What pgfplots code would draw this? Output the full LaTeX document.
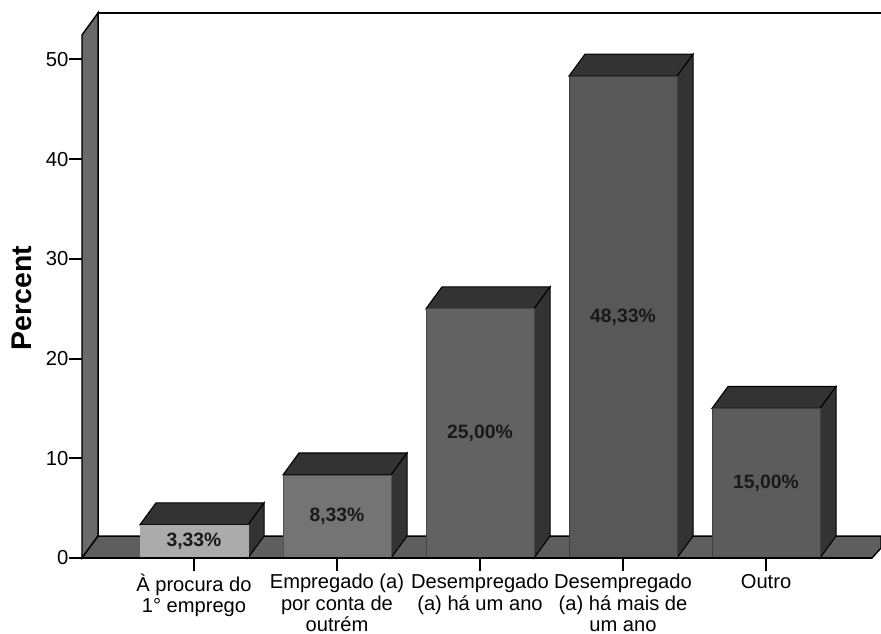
\documentclass[border=0pt]{standalone}
\usepackage{pgfplots}
\usepackage{fontspec}
\setmainfont{Liberation Sans}
\pgfplotsset{compat=1.18}
\definecolor{wall}{HTML}{6A6A6A}
\definecolor{floorc}{HTML}{5E5E5E}
\definecolor{dark}{HTML}{333333}
\definecolor{barA}{HTML}{ABABAB}
\definecolor{barB}{HTML}{747474}
\definecolor{barC}{HTML}{626262}
\definecolor{barD}{HTML}{585858}
\definecolor{barE}{HTML}{5C5C5C}
\begin{document}
\begin{tikzpicture}
\path[use as bounding box] (-61.5pt,-57pt) rectangle (599.25pt,418.5pt);
\begin{axis}[
  scale only axis, width=599.25pt, height=408.75pt,
  anchor=south west, at={(0pt,0pt)},
  xmin=-0.783, xmax=4.804, ymin=0, ymax=54.66,
  clip=false,
  axis line style={draw=none},
  tick align=outside, major tick length=9.5pt,
  tick style={black, line width=1.5pt},
  xtick pos=bottom, ytick pos=left,
  xtick={0,1,2,3,4},
  ytick={0,10,20,30,40,50},
  xticklabels={{À procura do\\1° emprego},{Empregado (a)\\por conta de\\outrém},{Desempregado\\(a) há um ano},{Desempregado\\(a) há mais de\\um ano},{Outro}},
  xticklabel style={align=center, font=\fontsize{15.1}{15.9}\selectfont, inner sep=0pt, yshift=-2.5pt},
  yticklabel style={font=\fontsize{15.2}{16}\selectfont, inner sep=0pt, xshift=-0.5pt},
  /pgf/number format/assume math mode=true,
  ylabel={Percent},
  every axis y label/.style={at={(axis description cs:-0.075,0.477)},rotate=90,anchor=center},
  ylabel style={font=\bfseries\fontsize{21.3}{23}\selectfont},
]
% back wall edges
\addplot[black, line width=1.5pt] coordinates {(-0.671,2.2) (-0.671,54.66) (4.804,54.66)};
% left wall
\addplot[fill=wall, draw=black, line width=1.1pt] coordinates {(-0.783,0) (-0.783,52.46) (-0.671,54.66) (-0.671,2.2)} -- cycle;
% floor
\addplot[fill=floorc, draw=black, line width=1.1pt] coordinates {(-0.783,0) (4.741,0) (4.804,1.0) (4.804,2.2) (-0.671,2.2)} -- cycle;
% bar 1
\addplot[fill=dark, draw=black, line width=0.8pt] coordinates {(-0.378,3.33) (-0.266,5.53) (0.49,5.53) (0.378,3.33)} -- cycle;
\addplot[fill=dark, draw=black, line width=0.8pt] coordinates {(0.378,0) (0.378,3.33) (0.49,5.53) (0.49,2.2)} -- cycle;
\addplot[ybar, bar shift=0pt, bar width=0.755, fill=barA, draw=barA] coordinates {(0,3.33)};
% bar 2
\addplot[fill=dark, draw=black, line width=0.8pt] coordinates {(0.622,8.33) (0.734,10.53) (1.49,10.53) (1.378,8.33)} -- cycle;
\addplot[fill=dark, draw=black, line width=0.8pt] coordinates {(1.378,0) (1.378,8.33) (1.49,10.53) (1.49,2.2)} -- cycle;
\addplot[ybar, bar shift=0pt, bar width=0.755, fill=barB, draw=barB!70!black] coordinates {(1,8.33)};
% bar 3
\addplot[fill=dark, draw=black, line width=0.8pt] coordinates {(1.622,25) (1.734,27.2) (2.49,27.2) (2.378,25)} -- cycle;
\addplot[fill=dark, draw=black, line width=0.8pt] coordinates {(2.378,0) (2.378,25) (2.49,27.2) (2.49,2.2)} -- cycle;
\addplot[ybar, bar shift=0pt, bar width=0.755, fill=barC, draw=barC!70!black] coordinates {(2,25)};
% bar 4
\addplot[fill=dark, draw=black, line width=0.8pt] coordinates {(2.622,48.33) (2.734,50.53) (3.49,50.53) (3.378,48.33)} -- cycle;
\addplot[fill=dark, draw=black, line width=0.8pt] coordinates {(3.378,0) (3.378,48.33) (3.49,50.53) (3.49,2.2)} -- cycle;
\addplot[ybar, bar shift=0pt, bar width=0.755, fill=barD, draw=barD!70!black] coordinates {(3,48.33)};
% bar 5
\addplot[fill=dark, draw=black, line width=0.8pt] coordinates {(3.622,15) (3.734,17.2) (4.49,17.2) (4.378,15)} -- cycle;
\addplot[fill=dark, draw=black, line width=0.8pt] coordinates {(4.378,0) (4.378,15) (4.49,17.2) (4.49,2.2)} -- cycle;
\addplot[ybar, bar shift=0pt, bar width=0.755, fill=barE, draw=barE!70!black] coordinates {(4,15)};
% baseline
\addplot[black, line width=1.1pt] coordinates {(-0.783,0) (4.741,0)};
% data labels
\node[font=\bfseries\fontsize{14.5}{16}\selectfont, text=black!90] at (axis cs:0,1.665) {3,33\%};
\node[font=\bfseries\fontsize{14.5}{16}\selectfont, text=black!90] at (axis cs:1,4.165) {8,33\%};
\node[font=\bfseries\fontsize{14.5}{16}\selectfont, text=black!90] at (axis cs:2,12.5) {25,00\%};
\node[font=\bfseries\fontsize{14.5}{16}\selectfont, text=black!90] at (axis cs:3,24.165) {48,33\%};
\node[font=\bfseries\fontsize{14.5}{16}\selectfont, text=black!90] at (axis cs:4,7.5) {15,00\%};
\end{axis}
\end{tikzpicture}
\end{document}
